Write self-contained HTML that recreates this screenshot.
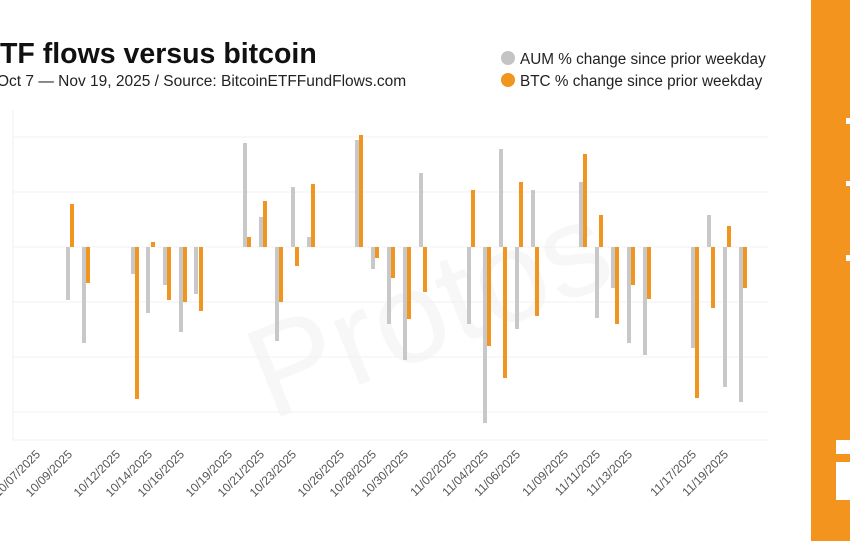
<!DOCTYPE html>
<html><head><meta charset="utf-8"><style>
body{margin:0;background:#fff;width:850px;height:541px;overflow:hidden;position:relative;font-family:"Liberation Sans",sans-serif}
</style></head><body>
<svg width="850" height="541" style="position:absolute;left:0;top:0" font-family="Liberation Sans, sans-serif">
<text x="-19" y="63" font-size="28.5" font-weight="bold" fill="#111">ETF flows versus bitcoin</text>
<text x="-3" y="86" font-size="15.5" fill="#222">Oct 7 — Nov 19, 2025 / Source: BitcoinETFFundFlows.com</text>
<circle cx="508" cy="58" r="7" fill="#c4c4c4"/>
<text x="520" y="64" font-size="15.3" fill="#222">AUM % change since prior weekday</text>
<circle cx="508" cy="80" r="7" fill="#f0961e"/>
<text x="520" y="86" font-size="15.3" fill="#222">BTC % change since prior weekday</text>
<text x="230" y="390" font-size="130" fill="#f7f7f7" transform="rotate(-22 330 300)">Protos</text>
<g stroke="#f0f0f0" stroke-width="1">
<line x1="13" y1="137" x2="768" y2="137"/><line x1="13" y1="192" x2="768" y2="192"/>
<line x1="13" y1="247" x2="768" y2="247"/><line x1="13" y1="302" x2="768" y2="302"/>
<line x1="13" y1="357" x2="768" y2="357"/><line x1="13" y1="412" x2="768" y2="412"/>
<line x1="13" y1="110" x2="13" y2="440"/><line x1="13" y1="440" x2="768" y2="440"/>
</g>
<g stroke-width="4">
<g stroke="#c8c8c8">
<line x1="68" y1="247" x2="68" y2="300"/><line x1="84" y1="247" x2="84" y2="343"/>
<line x1="133" y1="247" x2="133" y2="274"/><line x1="148" y1="247" x2="148" y2="313"/>
<line x1="165" y1="247" x2="165" y2="285"/><line x1="181" y1="247" x2="181" y2="332"/>
<line x1="196" y1="247" x2="196" y2="294"/><line x1="245" y1="247" x2="245" y2="143"/>
<line x1="261" y1="247" x2="261" y2="217"/><line x1="277" y1="247" x2="277" y2="341"/>
<line x1="293" y1="247" x2="293" y2="187"/><line x1="309" y1="247" x2="309" y2="237"/>
<line x1="357" y1="247" x2="357" y2="140"/><line x1="373" y1="247" x2="373" y2="269"/>
<line x1="389" y1="247" x2="389" y2="324"/><line x1="405" y1="247" x2="405" y2="360"/>
<line x1="421" y1="247" x2="421" y2="173"/><line x1="469" y1="247" x2="469" y2="324"/>
<line x1="485" y1="247" x2="485" y2="423"/><line x1="501" y1="247" x2="501" y2="149"/>
<line x1="517" y1="247" x2="517" y2="329"/><line x1="533" y1="247" x2="533" y2="190"/>
<line x1="581" y1="247" x2="581" y2="182"/><line x1="597" y1="247" x2="597" y2="318"/>
<line x1="613" y1="247" x2="613" y2="288"/><line x1="629" y1="247" x2="629" y2="343"/>
<line x1="645" y1="247" x2="645" y2="355"/><line x1="693" y1="247" x2="693" y2="348"/>
<line x1="709" y1="247" x2="709" y2="215"/><line x1="725" y1="247" x2="725" y2="387"/>
<line x1="741" y1="247" x2="741" y2="402"/>
</g>
<g stroke="#f0961e">
<line x1="72" y1="247" x2="72" y2="204"/><line x1="88" y1="247" x2="88" y2="283"/>
<line x1="137" y1="247" x2="137" y2="399"/><line x1="153" y1="247" x2="153" y2="242"/>
<line x1="169" y1="247" x2="169" y2="300"/><line x1="185" y1="247" x2="185" y2="302"/>
<line x1="201" y1="247" x2="201" y2="311"/><line x1="249" y1="247" x2="249" y2="237"/>
<line x1="265" y1="247" x2="265" y2="201"/><line x1="281" y1="247" x2="281" y2="302"/>
<line x1="297" y1="247" x2="297" y2="266"/><line x1="313" y1="247" x2="313" y2="184"/>
<line x1="361" y1="247" x2="361" y2="135"/><line x1="377" y1="247" x2="377" y2="258"/>
<line x1="393" y1="247" x2="393" y2="278"/><line x1="409" y1="247" x2="409" y2="319"/>
<line x1="425" y1="247" x2="425" y2="292"/><line x1="473" y1="247" x2="473" y2="190"/>
<line x1="489" y1="247" x2="489" y2="346"/><line x1="505" y1="247" x2="505" y2="378"/>
<line x1="521" y1="247" x2="521" y2="182"/><line x1="537" y1="247" x2="537" y2="316"/>
<line x1="585" y1="247" x2="585" y2="154"/><line x1="601" y1="247" x2="601" y2="215"/>
<line x1="617" y1="247" x2="617" y2="324"/><line x1="633" y1="247" x2="633" y2="285"/>
<line x1="649" y1="247" x2="649" y2="299"/><line x1="697" y1="247" x2="697" y2="398"/>
<line x1="713" y1="247" x2="713" y2="308"/><line x1="729" y1="247" x2="729" y2="226"/>
<line x1="745" y1="247" x2="745" y2="288"/>
</g>
</g>
<g font-size="12" fill="#555" text-anchor="end">
<text transform="translate(41,455) rotate(-45)">10/07/2025</text>
<text transform="translate(73,455) rotate(-45)">10/09/2025</text>
<text transform="translate(121,455) rotate(-45)">10/12/2025</text>
<text transform="translate(153,455) rotate(-45)">10/14/2025</text>
<text transform="translate(185,455) rotate(-45)">10/16/2025</text>
<text transform="translate(233,455) rotate(-45)">10/19/2025</text>
<text transform="translate(265,455) rotate(-45)">10/21/2025</text>
<text transform="translate(297,455) rotate(-45)">10/23/2025</text>
<text transform="translate(345,455) rotate(-45)">10/26/2025</text>
<text transform="translate(377,455) rotate(-45)">10/28/2025</text>
<text transform="translate(409,455) rotate(-45)">10/30/2025</text>
<text transform="translate(457,455) rotate(-45)">11/02/2025</text>
<text transform="translate(489,455) rotate(-45)">11/04/2025</text>
<text transform="translate(521,455) rotate(-45)">11/06/2025</text>
<text transform="translate(569,455) rotate(-45)">11/09/2025</text>
<text transform="translate(601,455) rotate(-45)">11/11/2025</text>
<text transform="translate(633,455) rotate(-45)">11/13/2025</text>
<text transform="translate(697,455) rotate(-45)">11/17/2025</text>
<text transform="translate(729,455) rotate(-45)">11/19/2025</text>
</g>
<rect x="811" y="0" width="39" height="541" fill="#f3941e"/>
<rect x="846" y="118" width="4" height="6" fill="#fff"/>
<rect x="846" y="181" width="4" height="5" fill="#fff"/>
<rect x="846" y="255" width="4" height="6" fill="#fff"/>
<rect x="836" y="440" width="14" height="14" fill="#fff"/>
<rect x="836" y="462" width="14" height="38" fill="#fff"/>
</svg>
</body></html>
